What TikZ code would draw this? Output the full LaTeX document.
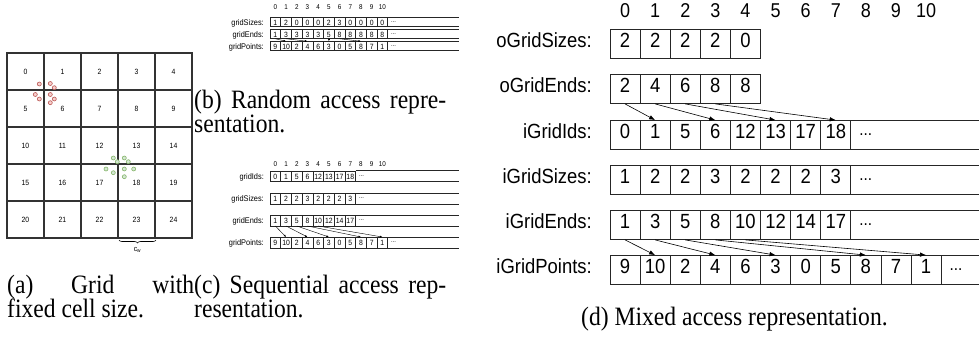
\documentclass[tikz,border=0pt]{standalone}
\usepackage{fontspec}
\setmainfont{Liberation Serif}
\newfontfamily\capfont[FakeStretch=0.89]{Liberation Serif}
\newfontfamily\arial[FakeStretch=0.9]{Liberation Sans}
\usetikzlibrary{arrows.meta,decorations.pathreplacing}
\definecolor{dotred}{HTML}{B85450}
\definecolor{dotredf}{HTML}{F8CECC}
\definecolor{dotgreen}{HTML}{82B366}
\definecolor{dotgreenf}{HTML}{D5E8D4}
\definecolor{gridgray}{HTML}{333333}
\begin{document}
\begin{tikzpicture}[x=1pt,y=-1pt,
  evenbox/.style={text height=1.45ex, text depth=0.1ex},
  gcell/.style={evenbox, draw=gridgray, line width=1.1pt, minimum width=37pt, minimum height=37pt, inner sep=0pt, font=\arial\fontsize{7.6}{7.6}\selectfont},
  rdot/.style={circle, draw=dotred, fill=dotredf, line width=0.6pt, minimum size=4pt, inner sep=0pt},
  gdot/.style={circle, draw=dotgreen, fill=dotgreenf, line width=0.6pt, minimum size=4pt, inner sep=0pt},
  scell/.style={evenbox, draw=black!85, line width=0.5pt, minimum width=10.7pt, minimum height=#1, inner sep=0pt, font=\arial\fontsize{7.6}{7.6}\selectfont},
  slabel/.style={evenbox, anchor=east, inner sep=0pt, font=\arial\fontsize{8.2}{8.2}\selectfont},
  sidx/.style={evenbox, inner sep=0pt, font=\arial\fontsize{7}{7}\selectfont},
  sdots/.style={anchor=west, inner sep=0pt, font=\arial\fontsize{6.5}{6.5}\selectfont},
  sline/.style={draw=black!85, line width=0.5pt},
  sarrow/.style={draw=black, line width=0.4pt, -{Latex[length=2.5pt,width=2pt]}},
  dcell/.style={evenbox, draw=black!85, line width=0.8pt, minimum width=30.1pt, minimum height=29pt, inner sep=0pt, font=\arial\fontsize{20.5}{20.5}\selectfont},
  dlabel/.style={evenbox, anchor=east, inner sep=0pt, font=\arial\fontsize{20.5}{20.5}\selectfont},
  didx/.style={evenbox, inner sep=0pt, font=\arial\fontsize{20}{20}\selectfont},
  ddots/.style={anchor=west, inner sep=0pt, font=\arial\fontsize{17}{17}\selectfont},
  dline/.style={draw=black!85, line width=0.8pt},
  darrow/.style={draw=black, line width=0.6pt, -{Latex[length=6pt,width=4.5pt]}},
  captext/.style={inner sep=0pt, anchor=base west, font=\capfont\fontsize{26.5}{24}\selectfont}
]
\useasboundingbox (0,0) rectangle (979,338);

% ---------------- (a) grid ----------------
\foreach \r in {0,...,4}{
  \foreach \c in {0,...,4}{
    \pgfmathtruncatemacro{\n}{5*\r+\c}
    \node[gcell] (g\n) at ({7+37*\c+18.5},{53+37*\r+18.5}) {\n};
  }
}
\node[rdot] (r1) at (39.3,84) {};
\node[rdot] (r2) at (50.3,83.5) {};
\node[rdot] (r3) at (54.3,87.7) {};
\node[rdot] (r4) at (35.3,94.5) {};
\node[rdot] (r5) at (39.3,99) {};
\node[rdot] (r6) at (50.3,94.5) {};
\node[rdot] (r7) at (54.3,99) {};
\node[rdot] (r8) at (50.3,102.7) {};
\node[gdot] (q1) at (113.3,158) {};
\node[gdot] (q2) at (117.3,161.7) {};
\node[gdot] (q3) at (124.3,158) {};
\node[gdot] (q4) at (128.3,161.7) {};
\node[gdot] (q5) at (106,169) {};
\node[gdot] (q6) at (113.3,172.7) {};
\node[gdot] (q7) at (124.3,169) {};
\node[gdot] (q8) at (133.7,169) {};
\node[gdot] (q9) at (124.3,176.7) {};
\coordinate (bL) at (119,240);
\coordinate (bR) at (156,240);
\draw[line width=0.6pt, decorate, decoration={brace, amplitude=3pt, mirror}] (bL) -- (bR);
\node[inner sep=0pt, font=\arial\fontsize{7.6}{7.6}\selectfont] (cw) at (137.5,250) {c\textsubscript{w}};

% ---------------- (b) random access ----------------
\foreach \i in {0,...,10} \node[sidx] (bh\i) at ({270+10.7*\i+5.35},6) {\i};
\node[slabel] (bSl) at (264,22) {gridSizes:};
\node[slabel] (bEl) at (264,34) {gridEnds:};
\node[slabel] (bPl) at (264,46) {gridPoints:};
\foreach \v [count=\i from 0] in {1,2,0,0,0,2,3,0,0,0,0}
  \node[scell=9pt] (bS-\i) at ({270+10.7*\i+5.35},22) {\v};
\foreach \v [count=\i from 0] in {1,3,3,3,3,5,8,8,8,8,8}
  \node[scell=9pt] (bE-\i) at ({270+10.7*\i+5.35},34) {\v};
\foreach \v [count=\i from 0] in {9,10,2,4,6,3,0,5,8,7,1}
  \node[scell=9pt] (bP-\i) at ({270+10.7*\i+5.35},46) {\v};
\foreach \r in {bS,bE,bP}{
  \node[minimum width=70.3pt, minimum height=9pt, inner sep=0pt, anchor=west] (\r-e) at (\r-10.east) {};
  \node[sdots] (\r-d) at ([xshift=3pt]\r-e.west) {...};
  \draw[sline] (\r-e.north west) -- (\r-e.north east) (\r-e.south west) -- (\r-e.south east);
}
\draw[sarrow] (bE-0.south) -- (bP-1.north);
\draw[sarrow] (bE-1.south) -- (bP-3.north);
\draw[sarrow] (bE-5.south) -- (bP-5.north);
\draw[sarrow] (bE-6.south) -- (bP-8.north);

\node[captext] (capB1) at (194,108) {\makebox[252pt][s]{(b) Random access repre-}};
\node[captext] (capB2) at (194,132) {sentation.};

% ---------------- (c) sequential access ----------------
\foreach \i in {0,...,10} \node[sidx] (ch\i) at ({270+10.7*\i+5.35},163) {\i};
\node[slabel] (cIl) at (264,176) {gridIds:};
\node[slabel] (cSl) at (264,198.5) {gridSizes:};
\node[slabel] (cEl) at (264,220.5) {gridEnds:};
\node[slabel] (cPl) at (264,242.5) {gridPoints:};
\foreach \v [count=\i from 0] in {0,1,5,6,12,13,17,18}
  \node[scell=10.5pt] (cI-\i) at ({270+10.7*\i+5.35},176) {\v};
\foreach \v [count=\i from 0] in {1,2,2,3,2,2,2,3}
  \node[scell=10.5pt] (cS-\i) at ({270+10.7*\i+5.35},198.5) {\v};
\foreach \v [count=\i from 0] in {1,3,5,8,10,12,14,17}
  \node[scell=10.5pt] (cE-\i) at ({270+10.7*\i+5.35},220.5) {\v};
\foreach \v [count=\i from 0] in {9,10,2,4,6,3,0,5,8,7,1}
  \node[scell=10.5pt] (cP-\i) at ({270+10.7*\i+5.35},242.5) {\v};
\foreach \r in {cI,cS,cE}{
  \node[minimum width=102.4pt, minimum height=10.5pt, inner sep=0pt, anchor=west] (\r-e) at (\r-7.east) {};
  \node[sdots] (\r-d) at ([xshift=3pt]\r-e.west) {...};
  \draw[sline] (\r-e.north west) -- (\r-e.north east) (\r-e.south west) -- (\r-e.south east);
}
\node[minimum width=70.3pt, minimum height=10.5pt, inner sep=0pt, anchor=west] (cP-e) at (cP-10.east) {};
\node[sdots] (cP-d) at ([xshift=3pt]cP-e.west) {...};
\draw[sline] (cP-e.north west) -- (cP-e.north east) (cP-e.south west) -- (cP-e.south east);
\draw[sarrow] (cE-0.south) -- (cP-1.north);
\draw[sarrow] (cE-1.south) -- (cP-3.north);
\draw[sarrow] (cE-2.south) -- (cP-5.north);
\draw[sarrow] (cE-3.south) -- (cP-8.north);
\draw[sarrow] (cE-4.south) -- (cP-10.north);

% ---------------- (d) mixed access ----------------
\foreach \i in {0,...,10} \node[didx] (dh\i) at ({610+30.1*\i+15.05},14) {\i};
\node[dlabel] (oSl) at (592,44) {oGridSizes:};
\node[dlabel] (oEl) at (592,89) {oGridEnds:};
\node[dlabel] (iIl) at (592,135) {iGridIds:};
\node[dlabel] (iSl) at (592,180) {iGridSizes:};
\node[dlabel] (iEl) at (592,225) {iGridEnds:};
\node[dlabel] (iPl) at (592,270) {iGridPoints:};
\foreach \v [count=\i from 0] in {2,2,2,2,0}
  \node[dcell] (oS-\i) at ({610+30.1*\i+15.05},44) {\v};
\foreach \v [count=\i from 0] in {2,4,6,8,8}
  \node[dcell] (oE-\i) at ({610+30.1*\i+15.05},89) {\v};
\foreach \v [count=\i from 0] in {0,1,5,6,12,13,17,18}
  \node[dcell] (iI-\i) at ({610+30.1*\i+15.05},135) {\v};
\foreach \v [count=\i from 0] in {1,2,2,3,2,2,2,3}
  \node[dcell] (iS-\i) at ({610+30.1*\i+15.05},180) {\v};
\foreach \v [count=\i from 0] in {1,3,5,8,10,12,14,17}
  \node[dcell] (iE-\i) at ({610+30.1*\i+15.05},225) {\v};
\foreach \v [count=\i from 0] in {9,10,2,4,6,3,0,5,8,7,1}
  \node[dcell] (iP-\i) at ({610+30.1*\i+15.05},270) {\v};
\foreach \r in {iI,iS,iE}{
  \node[minimum width=128.2pt, minimum height=29pt, inner sep=0pt, anchor=west] (\r-e) at (\r-7.east) {};
  \node[ddots] (\r-d) at ([xshift=8pt]\r-e.west) {...};
  \draw[dline] (\r-e.north west) -- (\r-e.north east) (\r-e.south west) -- (\r-e.south east);
}
\node[minimum width=38pt, minimum height=29pt, inner sep=0pt, anchor=west] (iP-e) at (iP-10.east) {};
\node[ddots] (iP-d) at ([xshift=8pt]iP-e.west) {...};
\draw[dline] (iP-e.north west) -- (iP-e.north east) (iP-e.south west) -- (iP-e.south east);
\draw[darrow] (oE-0.south) -- (iI-1.north);
\draw[darrow] (oE-1.south) -- (iI-3.north);
\draw[darrow] (oE-2.south) -- (iI-5.north);
\draw[darrow] (oE-3.south) -- (iI-7.north);
\draw[darrow] (iE-0.south) -- (iP-1.north);
\draw[darrow] (iE-1.south) -- (iP-3.north);
\draw[darrow] (iE-2.south) -- (iP-5.north);
\draw[darrow] (iE-3.south) -- (iP-8.north);
\draw[darrow] (iE-4.south) -- (iP-10.north);

% ---------------- captions ----------------
\node[captext] (capA1) at (7,293) {\makebox[187pt][s]{(a) Grid with}};
\node[captext] (capA2) at (7,317) {fixed cell size.};
\node[captext] (capC1) at (194,293) {\makebox[252pt][s]{(c) Sequential access rep-}};
\node[captext] (capC2) at (194,317) {resentation.};
\node[captext] (capD) at (581,325) {(d) Mixed access representation.};
\end{tikzpicture}
\end{document}
